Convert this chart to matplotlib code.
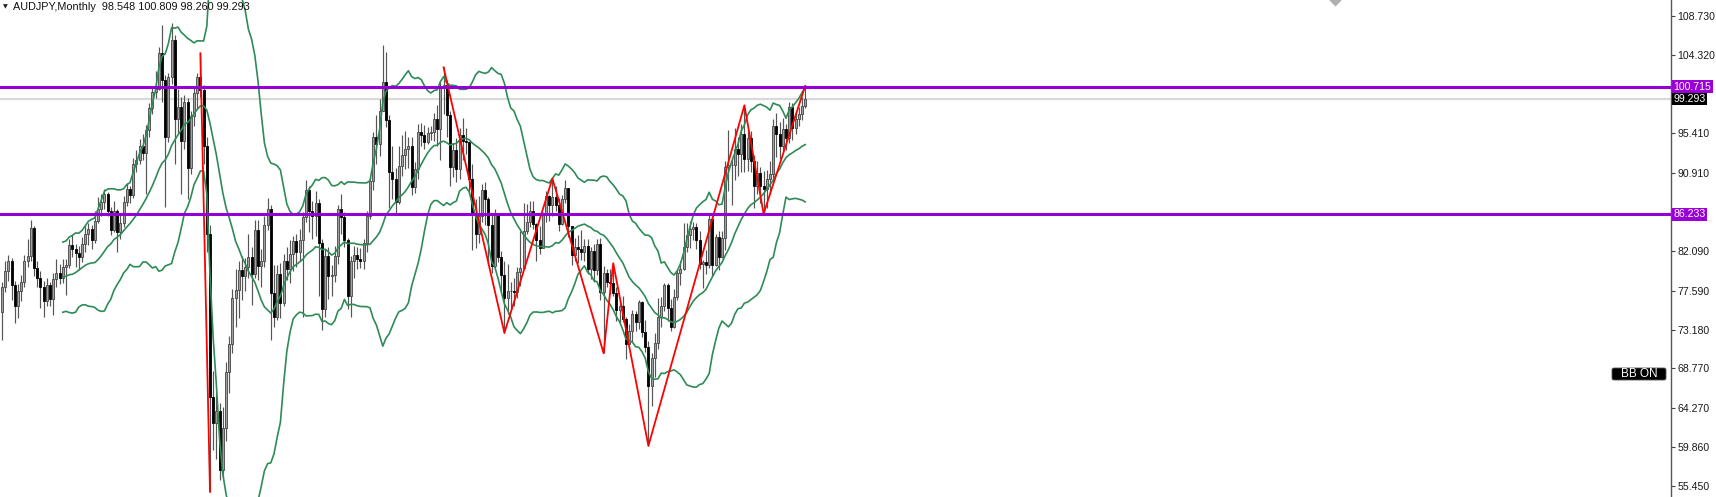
import numpy as np
import pandas as pd
import matplotlib
matplotlib.use("Agg")
import matplotlib.pyplot as plt
from matplotlib.lines import Line2D
from matplotlib.patches import FancyBboxPatch

plt.rcParams["font.family"] = ["Liberation Sans", "DejaVu Sans"]

# AUDJPY monthly, 2003-05 .. 2024-04
first_open = 75.2
closes = [
    78.0, 79.8, 81.0, 78.2, 75.8, 77.5, 78.6, 81.0,
    81.5, 84.7, 80.2, 79.0, 78.0, 76.4, 78.2, 76.6, 78.9, 79.6, 79.0, 80.3,
    80.5, 82.8, 82.3, 81.9, 81.4, 82.9, 84.0, 84.6, 83.3, 85.5, 86.9, 87.6,
    88.6, 86.6, 84.5, 86.6, 84.2, 85.3, 87.6, 89.1, 88.4, 92.0, 92.4, 94.0,
    93.2, 95.8, 98.3, 100.1, 100.5, 104.5, 101.5, 95.0, 101.8, 106.0, 97.0, 98.4,
    94.5, 99.0, 91.5, 97.4, 100.0, 101.8, 100.3, 94.0, 84.0, 65.5, 62.6, 64.0,
    57.3, 62.0, 68.4, 71.6, 76.8, 77.7, 79.9, 79.3, 80.3, 81.4, 79.5, 84.5,
    80.4, 80.9, 85.0, 86.8, 77.3, 74.6, 79.5, 76.2, 81.0, 80.0, 81.7, 83.2,
    82.0, 83.3, 85.9, 89.0, 86.6, 86.0, 87.5, 83.0, 75.5, 81.5, 79.3, 79.4,
    81.5, 86.8, 85.9, 83.3, 77.0, 80.9, 81.6, 81.2, 81.0, 83.0, 86.0, 90.0,
    95.0, 94.2, 98.0, 101.2, 96.9, 91.0, 90.3, 87.6, 91.7, 93.0, 93.7, 94.0,
    89.3, 91.4, 95.6, 95.2, 94.4, 95.5, 95.6, 97.1, 95.9, 100.6, 100.9, 97.5,
    91.6, 93.5, 91.4, 95.2, 94.6, 94.4, 90.2, 86.3, 84.0, 86.1, 89.0, 88.0,
    85.0, 80.4, 86.3, 81.4, 79.4, 76.8, 77.5, 77.5, 77.4, 79.7, 80.2, 84.4,
    85.4, 86.6, 85.1, 83.3, 82.4, 86.2, 88.3, 87.3, 88.2, 87.3, 85.2, 88.0,
    89.2, 84.9, 81.6, 82.5, 82.3, 82.0, 82.6, 80.0, 82.1, 79.9, 82.9, 77.4,
    79.6, 78.6, 78.5, 77.3, 75.4, 75.8, 74.4, 71.5, 73.0, 74.9, 74.0, 76.3,
    72.9, 71.2, 66.8, 70.0, 71.7, 74.6, 75.8, 78.2, 75.6, 73.5, 76.9, 79.6,
    80.0, 82.5, 83.9, 84.6, 84.8, 83.3, 80.6, 80.8, 80.5, 85.7, 80.5, 83.7,
    81.4, 83.6, 91.6, 91.8, 91.8, 93.6, 93.1, 95.3, 92.5, 94.9, 92.3, 89.4,
    90.9, 89.5, 89.1, 90.2, 90.8, 96.3, 95.4, 94.0, 95.9, 94.9, 98.4, 96.0,
    97.0, 97.6, 98.548, 99.293,
]
highs = [
    78.6, 81.0, 81.6, 81.3, 78.7, 78.3, 79.4, 81.6,
    83.5, 85.6, 84.9, 80.9, 79.8, 78.7, 79.0, 78.6, 79.6, 81.2, 80.6, 81.2,
    81.2, 83.5, 83.9, 82.9, 82.7, 83.7, 85.0, 85.3, 85.0, 86.6, 88.2, 88.6,
    89.1, 88.8, 87.1, 87.7, 86.9, 86.2, 88.3, 89.8, 89.5, 92.6, 93.5, 94.8,
    95.3, 96.4, 98.9, 100.6, 102.5, 105.2, 107.7, 102.0, 102.3, 107.9, 106.6, 100.5,
    99.5, 99.8, 99.4, 98.0, 100.8, 102.3, 104.5, 100.9, 95.0, 85.0, 68.5, 66.0,
    64.8, 64.4, 69.5, 72.5, 77.8, 80.0, 81.0, 81.5, 81.3, 84.0, 82.5, 85.6,
    85.6, 82.3, 86.0, 88.1, 87.3, 80.5, 80.5, 80.7, 81.8, 82.5, 83.3, 83.8,
    84.0, 84.6, 86.5, 90.1, 89.4, 87.7, 88.9, 88.0, 83.5, 82.3, 82.5, 80.5,
    82.6, 87.3, 88.6, 86.5, 83.6, 81.5, 82.7, 82.5, 82.4, 83.5, 86.6, 90.5,
    95.6, 97.5, 99.3, 105.4, 104.6, 97.5, 94.0, 91.5, 94.0, 95.2, 95.7, 95.0,
    95.0, 92.2, 96.5, 96.6, 96.4, 96.1, 96.3, 97.7, 98.6, 101.3, 102.9, 101.5,
    98.0, 94.3, 94.9, 96.0, 97.2, 96.0, 94.5, 91.9, 88.0, 88.3, 89.7, 89.9,
    88.2, 86.2, 86.9, 86.4, 82.1, 81.0, 80.6, 78.6, 79.0, 80.3, 84.3, 87.5,
    87.4, 87.7, 87.7, 85.3, 84.9, 86.5, 88.9, 88.4, 90.3, 89.4, 88.1, 88.4,
    90.1, 89.2, 84.9, 83.6, 83.9, 84.5, 83.4, 83.5, 82.5, 82.9, 83.4, 83.6,
    80.4, 80.0, 80.0, 80.7, 78.0, 76.4, 77.0, 74.6, 73.8, 75.4, 75.3, 76.5,
    76.4, 74.3, 71.9, 70.5, 72.8, 76.8, 76.9, 78.5, 78.5, 76.6, 77.8, 80.0,
    80.9, 85.3, 85.3, 85.5, 85.4, 85.3, 84.4, 81.1, 82.2, 86.2, 86.0, 84.0,
    84.3, 84.3, 92.3, 95.8, 92.6, 96.0, 95.0, 96.5, 98.6, 95.7, 95.7, 93.0,
    92.3, 91.6, 91.2, 91.3, 92.3, 97.0, 97.7, 96.7, 97.2, 96.5, 99.0, 98.9,
    98.0, 98.4, 99.6, 100.809,
]
lows = [
    72.0, 77.4, 78.7, 76.5, 73.9, 74.5, 76.4, 78.0,
    80.3, 81.0, 79.3, 78.0, 75.6, 74.6, 75.9, 75.8, 74.8, 78.0, 78.3, 78.5,
    77.1, 80.2, 81.4, 80.3, 79.9, 80.8, 82.0, 82.8, 82.3, 83.0, 85.3, 86.0,
    86.8, 86.0, 83.9, 84.2, 82.0, 83.4, 84.8, 87.2, 87.5, 88.1, 91.0, 92.0,
    92.4, 88.6, 95.0, 97.6, 99.4, 100.3, 99.0, 87.1, 94.4, 101.0, 92.0, 95.5,
    88.6, 93.6, 88.0, 90.8, 96.3, 98.2, 99.5, 92.0, 82.0, 54.8, 59.5, 58.5,
    56.1, 56.4, 60.5, 66.0, 70.5, 73.5, 74.5, 76.5, 77.6, 79.0, 76.0, 79.0,
    78.8, 78.0, 80.3, 84.5, 72.0, 73.5, 74.3, 74.5, 75.8, 78.8, 78.5, 79.8,
    80.3, 81.0, 74.6, 85.4, 84.2, 83.5, 83.8, 77.0, 73.1, 74.6, 76.6, 77.0,
    78.6, 80.6, 84.0, 82.5, 75.5, 74.6, 79.0, 80.0, 80.2, 80.0, 82.0, 85.7,
    89.0, 92.0, 92.8, 98.6, 96.1, 87.0, 88.0, 86.2, 87.4, 90.6, 91.4, 91.5,
    88.4, 88.7, 90.2, 94.0, 93.7, 94.2, 94.7, 94.6, 94.0, 92.4, 97.6, 95.0,
    89.4, 90.5, 89.9, 90.3, 92.4, 93.1, 88.7, 82.2, 82.4, 83.0, 85.4, 85.0,
    80.5, 79.6, 80.0, 80.8, 77.5, 72.8, 75.0, 75.5, 75.9, 76.8, 78.1, 83.5,
    84.0, 84.8, 84.6, 81.0, 81.7, 82.4, 85.4, 85.5, 86.0, 86.6, 84.3, 85.0,
    87.5, 83.7, 80.5, 81.0, 80.7, 81.1, 81.0, 79.5, 78.9, 78.6, 79.4, 76.5,
    70.5, 78.0, 77.2, 77.0, 74.2, 73.9, 74.0, 69.9, 71.8, 71.8, 73.0, 73.3,
    72.3, 70.6, 60.0, 64.5, 67.8, 71.0, 73.5, 75.3, 74.2, 73.0, 73.4, 76.5,
    78.2, 79.9, 82.0, 82.4, 83.3, 82.3, 80.0, 77.9, 79.5, 80.2, 79.3, 80.4,
    79.9, 81.3, 82.2, 88.9, 87.3, 90.1, 90.6, 91.0, 91.0, 91.2, 91.0, 87.0,
    88.5, 87.5, 86.3, 87.0, 88.5, 90.3, 92.7, 92.5, 93.4, 93.5, 94.3, 94.7,
    95.3, 96.2, 96.9, 98.260,
]

# zigzag pivots (bar index, price)
zz_crash_idx = [62, 65]
zz_crash_px = [104.5, 54.8]
zz_idx = [138, 157, 172, 188, 191, 202, 232, 238, 251]
zz_px = [102.9, 72.8, 90.3, 70.5, 80.7, 60.0, 98.6, 86.3, 100.809]

levels = [100.715, 86.233]
bid = 99.293
yticks = [108.730, 104.320, 99.820, 95.410, 90.910, 86.500, 82.090,
          77.590, 73.180, 68.770, 64.270, 59.860, 55.450]
hidden_ticks = [99.820, 86.500]  # covered by the price labels
title = "AUDJPY,Monthly  98.548 100.809 98.260 99.293"

W, H = 1716, 497
fig = plt.figure(figsize=(W / 100, H / 100), dpi=100)
ax = fig.add_axes([0, 0, 1671 / W, 1])

c = np.array(closes)
o = np.r_[first_open, c[:-1]]
h = np.maximum(np.array(highs), np.maximum(o, c))
l = np.minimum(np.array(lows), np.minimum(o, c))
x = np.arange(len(c))
up = c >= o

# bid line
ax.axhline(bid, color="#d9d9d9", lw=1.6, zorder=1)

# candles
ax.vlines(x, l, h, color="#555555", lw=0.85, zorder=2)
ax.bar(x[up], (c - o)[up], bottom=o[up], width=0.68, color="#a0a0a0",
       edgecolor="#444444", lw=0.6, zorder=2.1)
ax.bar(x[~up], (o - c)[~up], bottom=c[~up], width=0.68, color="black",
       edgecolor="black", lw=0.6, zorder=2.1)

# bollinger bands 20, 2
s = pd.Series(c)
mid = s.rolling(20).mean()
sd = s.rolling(20).std(ddof=0)
for band in (mid, mid + 2 * sd, mid - 2 * sd):
    ax.plot(x, band, color="#2e8b57", lw=1.2, zorder=3)

# zigzag
ax.plot(zz_crash_idx, zz_crash_px, color="red", lw=1.3, zorder=4)
ax.plot(zz_idx, zz_px, color="red", lw=1.3, zorder=4)

# horizontal levels
for lv in levels:
    ax.axhline(lv, color="#9400d3", lw=2.2, zorder=5)

ax.set_xlim(-2 / 3.2, (1671 - 2) / 3.2)
ax.set_ylim(54.20, 110.54)
ax.set_xticks([])
ax.yaxis.tick_right()
ax.set_yticks(yticks)
ax.set_yticklabels(["" if t in hidden_ticks else f"{t:.3f}" for t in yticks])
ax.tick_params(axis="y", length=3, width=0.8, color="#444444",
               labelsize=7.6, pad=1.5, labelcolor="#1a1a1a")
for sp in ("top", "left", "bottom"):
    ax.spines[sp].set_visible(False)
ax.spines["right"].set_color("#555555")
ax.spines["right"].set_linewidth(1)

# price labels on axis
for val, fc in [(levels[0], "#9a00d6"), (bid, "black"), (levels[1], "#9a00d6")]:
    ax.annotate(f"{val:.3f}", xy=(1, val), xycoords=("axes fraction", "data"),
                xytext=(1.8, 0), textcoords="offset points", va="center",
                ha="left", color="white", fontsize=7.6, annotation_clip=False,
                bbox=dict(boxstyle="square,pad=0.12", fc=fc, ec="none"),
                zorder=10)

# title
fig.text(13 / W, 1 - 7 / H, title, va="center", ha="left", fontsize=7.8,
         color="#111111")
fig.text(3 / W, 1 - 7 / H, "\u25bc", va="center", ha="left", fontsize=4.5,
         color="#222222", family="DejaVu Sans")

# BB ON button
fig.patches.append(FancyBboxPatch((1612, 497 - 380), 54, 12,
                                  boxstyle="round,pad=0,rounding_size=2",
                                  transform=None, fc="black", ec="#555555",
                                  lw=0.6))
fig.text(1639 / W, 1 - 374 / H, "BB ON", va="center", ha="center",
         fontsize=8.5, color="white")

# small grey marker at top
fig.add_artist(Line2D([1335 / W], [1.0], marker="D", ms=6, color="#b0b0b0",
                      mec="none", transform=fig.transFigure))

fig.savefig("out.png", dpi=100)
